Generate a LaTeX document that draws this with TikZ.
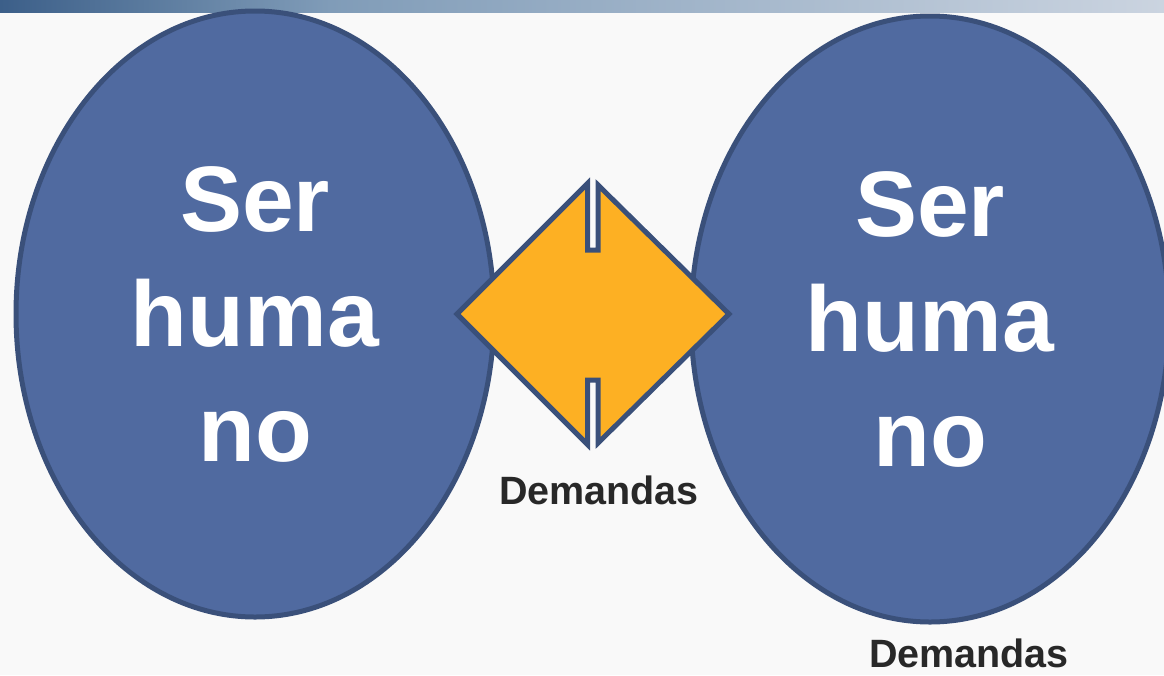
\documentclass[tikz,border=0pt]{standalone}
\usepackage{fontspec}
\setmainfont{Liberation Sans}
\usetikzlibrary{shapes.geometric}
\definecolor{ellfill}{RGB}{80,106,160}
\definecolor{ellline}{RGB}{58,80,122}
\definecolor{dmfill}{RGB}{253,176,35}
\definecolor{bandL}{RGB}{60,95,137}
\definecolor{bandM}{RGB}{128,156,184}
\definecolor{bandR}{RGB}{203,212,224}
\definecolor{bgc}{RGB}{249,249,249}
\definecolor{txtdark}{RGB}{40,40,40}
\tikzset{
  human/.style={ellipse, draw=ellline, line width=5pt, fill=ellfill,
    minimum width=478pt, minimum height=606pt, inner sep=0pt,
    align=center, text=white,
    font=\fontsize{93}{115}\selectfont\bfseries},
  demand/.style={anchor=base, inner sep=0pt, text=txtdark,
    font=\fontsize{39.5}{44}\selectfont\bfseries},
  slotdiamond/.style={draw=ellline, line width=5pt, fill=dmfill, line join=miter}
}
\begin{document}
\begin{tikzpicture}[x=1pt,y=-1pt]
\useasboundingbox (0,0) rectangle (1164,675);
\clip (0,0) rectangle (1164,675);
\fill[bgc] (0,0) rectangle (1164,675);
\shade[left color=bandL, right color=bandM] (0,0) rectangle (330,12);
\shade[left color=bandM, right color=bandR] (330,0) rectangle (1164,12);

\node[human] (left) at (255,314) {Ser\\huma\\no};
\node[human] (right) at (930,319) {Ser\\huma\\no};

\draw[slotdiamond] (457,314) -- (587.5,183.5) -- (587.5,250) -- (598,250) -- (598,185)
  -- (729,314) -- (598,443) -- (598,380) -- (587.5,380) -- (587.5,444.5) -- cycle;

\node[demand] (d1) at (599,504) {Demandas};
\node[demand] (d2) at (969,667) {Demandas};
\end{tikzpicture}
\end{document}
